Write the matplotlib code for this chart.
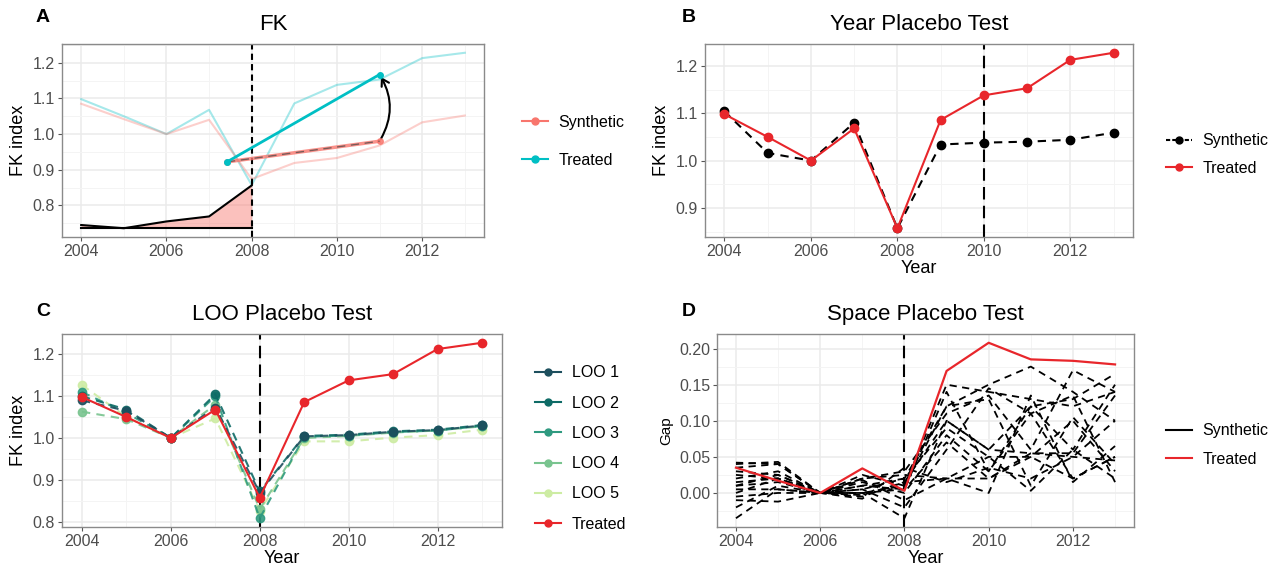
import matplotlib
matplotlib.use("Agg")
import matplotlib.pyplot as plt
import numpy as np
from matplotlib.lines import Line2D
from matplotlib.patches import FancyArrowPatch

plt.rcParams['font.family'] = ['Liberation Sans', 'DejaVu Sans']

years = list(range(2004, 2014))

# common treated FK series
treated_fk = [1.098, 1.050, 1.000, 1.068, 0.857, 1.086, 1.138, 1.153, 1.213, 1.228]

# panel A
a_synth = [1.085, 1.042, 1.000, 1.040, 0.874, 0.919, 0.933, 0.968, 1.033, 1.052]
a_hl_x = [2007.42, 2011]
a_hl_treated = [0.922, 1.167]
a_hl_synth = [0.922, 0.980]
a_pre_years = [2004, 2005, 2006, 2007, 2008]
a_pre_vals = [0.745, 0.736, 0.755, 0.769, 0.856]
a_base = 0.736

# panel B
b_synth = [1.104, 1.016, 1.000, 1.080, 0.857, 1.034, 1.038, 1.040, 1.044, 1.059]

# panel C
loo_labels = ['LOO 1', 'LOO 2', 'LOO 3', 'LOO 4', 'LOO 5']
loo_colors = ['#1d4f5e', '#0e6b66', '#2f9a80', '#79c48f', '#cdeca3']
loo_vals = [
    [1.090, 1.065, 1.000, 1.073, 0.869, 1.004, 1.007, 1.015, 1.019, 1.030],
    [1.100, 1.068, 1.000, 1.105, 0.872, 1.005, 1.008, 1.016, 1.020, 1.031],
    [1.110, 1.060, 1.000, 1.100, 0.808, 1.003, 1.006, 1.014, 1.018, 1.029],
    [1.063, 1.045, 1.000, 1.080, 0.830, 1.000, 1.005, 1.013, 1.018, 1.028],
    [1.127, 1.050, 1.000, 1.047, 0.826, 0.992, 0.992, 1.001, 1.007, 1.020],
]

# panel D
d_treated = [0.035, 0.017, 0.000, 0.034, 0.003, 0.169, 0.208, 0.185, 0.183, 0.178]
d_placebos = [
    [0.042, 0.040, 0.0, 0.000, 0.010, 0.150, 0.140, 0.130, 0.120, 0.140],
    [0.040, 0.043, 0.0, 0.005, 0.020, 0.120, 0.150, 0.175, 0.140, 0.100],
    [0.030, 0.025, 0.0, 0.020, 0.030, 0.110, 0.135, 0.060, 0.170, 0.140],
    [0.020, 0.030, 0.0, -0.005, 0.015, 0.100, 0.060, 0.120, 0.130, 0.165],
    [0.015, 0.020, 0.0, 0.000, -0.035, 0.100, 0.060, 0.055, 0.050, 0.045],
    [0.010, 0.015, 0.0, 0.010, 0.020, 0.090, 0.050, 0.003, 0.060, 0.020],
    [0.005, 0.005, 0.0, 0.015, 0.000, 0.080, 0.030, 0.110, 0.020, 0.050],
    [-0.010, -0.012, 0.0, 0.000, 0.005, 0.070, 0.020, 0.050, 0.100, 0.030],
    [-0.020, 0.010, 0.0, 0.020, 0.025, 0.020, 0.020, 0.055, 0.055, 0.135],
    [-0.035, 0.005, 0.0, -0.003, 0.015, 0.020, 0.000, 0.135, 0.015, 0.065],
    [0.025, 0.020, 0.0, 0.005, -0.020, 0.060, 0.145, 0.110, 0.135, 0.015],
    [0.000, 0.020, 0.0, -0.008, 0.035, 0.015, 0.035, 0.020, 0.050, 0.100],
    [0.035, 0.040, 0.0, 0.025, 0.010, 0.120, 0.130, 0.010, 0.105, 0.040],
    [0.010, 0.025, 0.0, 0.010, 0.005, 0.140, 0.030, 0.120, 0.060, 0.150],
    [-0.005, 0.000, 0.0, 0.018, -0.010, 0.020, 0.050, 0.050, 0.020, 0.050],
]

SALMON = '#F8766D'
CYAN = '#00BFC4'
RED = '#e8262b'
TICK_GREY = '#4D4D4D'


def expand(lo, hi, f=0.05):
    r = hi - lo
    return lo - f * r, hi + f * r


def style_ax(ax, ylo, yhi, yticks, yfmt="{:.1f}"):
    ax.set_xlim(*expand(2004, 2013))
    ax.set_ylim(*expand(ylo, yhi))
    ax.set_xticks([2004, 2006, 2008, 2010, 2012])
    ax.set_xticks([2005, 2007, 2009, 2011, 2013], minor=True)
    ax.set_yticks(yticks)
    ax.set_yticklabels([yfmt.format(v) for v in yticks])
    step = yticks[1] - yticks[0]
    ylim = ax.get_ylim()
    minors = [v + step / 2 for v in [yticks[0] - step] + list(yticks)]
    ax.set_yticks([m for m in minors if ylim[0] < m < ylim[1]], minor=True)
    ax.grid(which='major', color='#EBEBEB', lw=1.1)
    ax.grid(which='minor', color='#F4F4F4', lw=0.7)
    ax.set_axisbelow(True)
    for s in ax.spines.values():
        s.set_color('#8a8a8a')
        s.set_linewidth(1.0)
    ax.tick_params(which='major', colors='#555555', labelcolor=TICK_GREY,
                   labelsize=11.5, length=3, width=0.8, pad=2)
    ax.tick_params(which='minor', length=0)


def add_legend(fig, handles, labels, x, y, spacing):
    fig.legend(handles, labels, loc='center left', bbox_to_anchor=(x, y),
               frameon=False, fontsize=11.5, handlelength=1.6,
               handletextpad=0.7, labelspacing=spacing, borderpad=0,
               borderaxespad=0)


def key(color, ls='-'):
    return Line2D([0], [0], color=color, lw=1.5, ls=ls, marker='o',
                  markersize=5)


W, H = 1275, 570
fig = plt.figure(figsize=(W / 100, H / 100), dpi=100)


def box(l, t, r, b):
    return [l / W, 1 - b / H, (r - l) / W, (b - t) / H]


axA = fig.add_axes(box(62, 44, 484, 237))
axB = fig.add_axes(box(705, 44, 1133, 237))
axC = fig.add_axes(box(62, 334, 502, 527))
axD = fig.add_axes(box(717, 334, 1134, 527))

# ---- A
allA = treated_fk + a_synth + a_pre_vals
style_ax(axA, min(allA), max(allA), [0.8, 0.9, 1.0, 1.1, 1.2])
axA.plot(years, treated_fk, color=CYAN, lw=1.5, alpha=0.35)
axA.plot(years, a_synth, color=SALMON, lw=1.5, alpha=0.35)
axA.fill_between(a_pre_years, a_pre_vals, a_base, color=SALMON, alpha=0.45, lw=0)
axA.plot(a_pre_years, a_pre_vals, color='black', lw=1.5)
axA.plot([a_pre_years[0], a_pre_years[-1]], [a_base, a_base], color='black', lw=1.5)
axA.axvline(2008, color='black', lw=1.5, ls=(0, (3, 2)))
axA.plot(a_hl_x, a_hl_synth, color=SALMON, lw=2.5, alpha=0.8,
         marker='o', markersize=4)
axA.plot(a_hl_x, a_hl_synth, color='#444444', lw=1.0, ls=(0, (6, 4)), alpha=0.7)
axA.plot(a_hl_x, a_hl_treated, color=CYAN, lw=2.0, marker='o', markersize=4)
arrow = FancyArrowPatch((a_hl_x[1], a_hl_synth[1]), (a_hl_x[1], a_hl_treated[1]),
                        connectionstyle="arc3,rad=0.3", arrowstyle='->,head_length=5,head_width=3',
                        color='black', lw=1.5, shrinkA=2, shrinkB=2)
axA.add_patch(arrow)
axA.set_ylabel('FK index', fontsize=13, labelpad=4)
axA.set_title('FK', fontsize=16, pad=10)
add_legend(fig, [key(SALMON), key(CYAN)], ['Synthetic', 'Treated'],
           522 / W, 1 - 141.5 / H, 1.45)

# ---- B
allB = treated_fk + b_synth
style_ax(axB, min(allB), max(allB), [0.9, 1.0, 1.1, 1.2])
axB.axvline(2010, color='black', lw=1.5, ls=(0, (6, 3)))
axB.plot(years, b_synth, color='black', lw=1.5, ls=(0, (4, 3)), marker='o', markersize=6)
axB.plot(years, treated_fk, color=RED, lw=1.5, marker='o', markersize=6)
axB.set_ylabel('FK index', fontsize=13, labelpad=4)
axB.set_xlabel('Year', fontsize=13, labelpad=1)
axB.set_title('Year Placebo Test', fontsize=16, pad=10)
add_legend(fig, [key('black', (0, (2, 1))), key(RED)], ['Synthetic', 'Treated'],
           1166 / W, 1 - 154.5 / H, 0.8)

# ---- C
allC = treated_fk + [v for row in loo_vals for v in row]
style_ax(axC, min(allC), max(allC), [0.8, 0.9, 1.0, 1.1, 1.2])
axC.axvline(2008, color='black', lw=1.5, ls=(0, (6, 3)))
for vals, col in zip(loo_vals[::-1], loo_colors[::-1]):
    axC.plot(years, vals, color=col, lw=1.5, ls=(0, (4, 3)), marker='o',
             markersize=6, alpha=0.9)
axC.plot(years, treated_fk, color=RED, lw=1.5, marker='o', markersize=6)
axC.set_ylabel('FK index', fontsize=13, labelpad=4)
axC.set_xlabel('Year', fontsize=13, labelpad=1)
axC.set_title('LOO Placebo Test', fontsize=16, pad=10)
add_legend(fig, [key(c) for c in loo_colors] + [key(RED)], loo_labels + ['Treated'],
           535 / W, 1 - 448.5 / H, 0.96)

# ---- D
allD = d_treated + [v for row in d_placebos for v in row]
style_ax(axD, min(allD), max(allD), [0.0, 0.05, 0.10, 0.15, 0.20], "{:.2f}")
axD.axvline(2008, color='black', lw=1.5, ls=(0, (6, 3)))
for vals in d_placebos:
    axD.plot(years, vals, color='black', lw=1.3, ls=(0, (4, 3)))
axD.plot(years, d_treated, color=RED, lw=1.6)
axD.set_ylabel('Gap', fontsize=11, labelpad=4)
axD.set_xlabel('Year', fontsize=13, labelpad=1)
axD.set_title('Space Placebo Test', fontsize=16, pad=10)
add_legend(fig, [Line2D([0], [0], color='black', lw=1.5), Line2D([0], [0], color=RED, lw=1.5)],
           ['Synthetic', 'Treated'], 1166 / W, 1 - 445 / H, 0.85)

# panel letters
for letter, x, y in [('A', 36, 18), ('B', 682, 18), ('C', 36, 312), ('D', 682, 312)]:
    fig.text(x / W, 1 - y / H, letter, fontsize=14, fontweight='bold', va='center')

fig.savefig('out.png', dpi=100)
